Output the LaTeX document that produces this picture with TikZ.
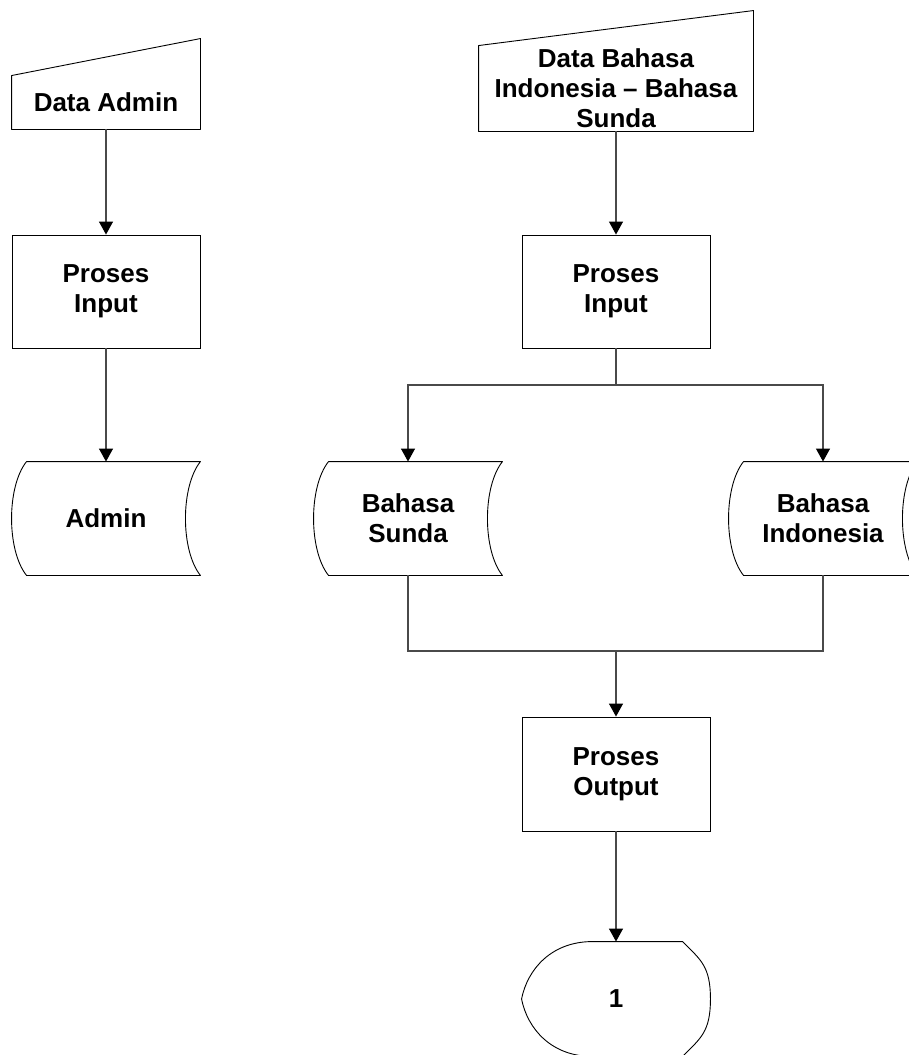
\documentclass[tikz,border=0pt]{standalone}
\usepackage{fontspec}
\setmainfont{Liberation Sans}
\usetikzlibrary{calc,arrows.meta}
\definecolor{ink}{HTML}{000000}
\definecolor{wire}{HTML}{4A4A4A}
\tikzset{
  box/.style={draw=ink, line width=0.9pt, minimum width=188pt, minimum height=113pt,
    inner sep=0pt, align=center, font=\bfseries\fontsize{26}{30}\selectfont},
  bare/.style={box, draw=none},
  outline/.style={draw=ink, line width=0.9pt, line join=round},
  link/.style={draw=wire, line width=1.3pt},
  flow/.style={link, -{Triangle[width=14pt,length=13pt,color=ink]}},
}

\begin{document}
\begin{tikzpicture}[x=1pt,y=-1pt]
  \useasboundingbox (0,0) rectangle (909,1055);
  \clip (0,0) rectangle (909,1055);
  % left column
  \node[bare, minimum height=53pt] (dAdmin) at (106,102.5) {Data Admin};
  \node[box] (inAdmin) at (106,291.5) {Proses\\Input};
  \node[bare] (sAdmin) at (106,518.5) {Admin};
  % right column
  \node[bare, minimum width=274pt, minimum height=85pt] (dBahasa) at (616,88.5)
    {Data Bahasa\\Indonesia – Bahasa\\Sunda};
  \node[box] (inBahasa) at (616,291.5) {Proses\\Input};
  \node[bare] (sSunda) at (408,518.5) {Bahasa\\Sunda};
  \node[bare] (sIndo) at (823,518.5) {Bahasa\\Indonesia};
  \node[box, minimum height=114pt] (outBahasa) at (616,774) {Proses\\Output};
  \node[bare, minimum height=114pt] (conn) at (616,999) {1};
  \coordinate (split) at (616,385);
  \coordinate (merge) at (616,651);

  % manual input shapes
  \draw[outline] (dAdmin.south west) -- (dAdmin.north west)
    -- ($(dAdmin.north east)+(0,-37)$) -- (dAdmin.south east) -- cycle;
  \draw[outline] (dBahasa.south west) -- (dBahasa.north west)
    -- ($(dBahasa.north east)+(0,-35)$) -- (dBahasa.south east) -- cycle;
  % stored data shapes
  \foreach \n in {sAdmin,sSunda,sIndo}{
    \draw[outline] ($(\n.north west)+(15,0)$) -- (\n.north east)
      .. controls ($(\n.north east)+(-20,25)$) and ($(\n.south east)+(-20,-25)$) .. (\n.south east)
      -- ($(\n.south west)+(15,0)$)
      .. controls ($(\n.south west)+(-5,-25)$) and ($(\n.north west)+(-5,25)$) .. cycle;
  }
  % display shape
  \draw[outline] ($(conn.north west)+(71,0)$) -- ($(conn.north east)+(-28,0)$)
    .. controls ($(conn.north east)+(-10,18)$) and ($(conn.east)+(0,-33)$) .. (conn.east)
    .. controls ($(conn.east)+(0,33)$) and ($(conn.south east)+(-10,-18)$) .. ($(conn.south east)+(-28,0)$)
    -- ($(conn.south west)+(71,0)$)
    .. controls ($(conn.south west)+(30,0)$) and ($(conn.west)+(6,30)$) .. (conn.west)
    .. controls ($(conn.west)+(6,-30)$) and ($(conn.north west)+(30,0)$) .. cycle;

  % connectors
  \draw[flow] (dAdmin.south) -- (inAdmin.north);
  \draw[flow] (inAdmin.south) -- (sAdmin.north);
  \draw[flow] (dBahasa.south) -- (inBahasa.north);
  \draw[link] (inBahasa.south) -- (split);
  \draw[flow] (split) -| (sSunda.north);
  \draw[flow] (split) -| (sIndo.north);
  \draw[link] (sSunda.south) |- (merge);
  \draw[link] (sIndo.south) |- (merge);
  \draw[flow] (merge) -- (outBahasa.north);
  \draw[flow] (outBahasa.south) -- (conn.north);
\end{tikzpicture}
\end{document}
